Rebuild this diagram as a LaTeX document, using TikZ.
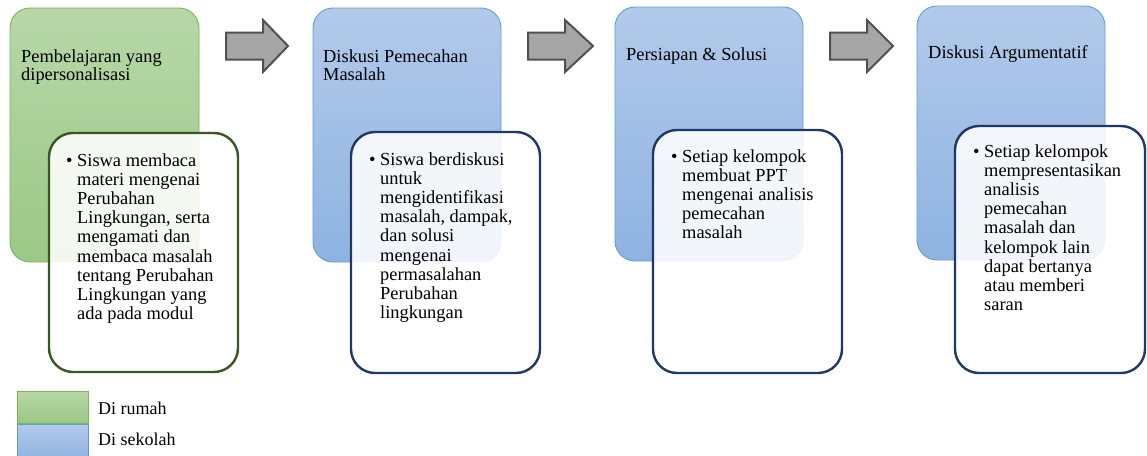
\documentclass[tikz,border=0pt]{standalone}
\usepackage{fontspec}
\setmainfont{Liberation Serif}
\usetikzlibrary{calc}
\definecolor{gtop}{RGB}{183,215,168}
\definecolor{gbot}{RGB}{155,200,134}
\definecolor{gline}{RGB}{122,182,82}
\definecolor{btop}{RGB}{178,202,234}
\definecolor{bbot}{RGB}{142,179,225}
\definecolor{bline}{RGB}{98,156,214}
\definecolor{gdark}{RGB}{56,87,35}
\definecolor{bdark}{RGB}{31,56,100}
\definecolor{arrfill}{RGB}{166,166,166}
\definecolor{arrline}{RGB}{80,80,80}
\tikzset{
  greenbox/.style={rounded corners=20pt, top color=gtop, bottom color=gbot, draw=gline, line width=0.9pt},
  bluebox/.style={rounded corners=20pt, top color=btop, bottom color=bbot, draw=bline, line width=0.9pt},
  innerbox/.style={rounded corners=24pt, fill=white, fill opacity=0.88, line width=2.4pt},
  arrowshape/.style={fill=arrfill, draw=arrline, line width=2pt, line join=miter},
  headtext/.style={anchor=base west, inner sep=0pt, align=left, font=\fontsize{18.4}{18}\selectfont},
  bullettext/.style={anchor=base west, inner sep=0pt, align=left, font=\fontsize{18.4}{19.2}\selectfont},
  legendtext/.style={anchor=base west, inner sep=0pt, font=\fontsize{18}{19}\selectfont},
}
\newcommand{\flowarrow}[2]{%
  \path[arrowshape] (#1,32.5) -- (#1+37,32.5) -- (#1+37,20) -- (#2,46) -- (#1+37,72) -- (#1+37,59.5) -- (#1,59.5) -- cycle;}
\begin{document}
\begin{tikzpicture}[x=1pt,y=-1pt]
\useasboundingbox (0,0) rectangle (1147,455);
% outer boxes
\path[greenbox] (10,8) rectangle (199,262);
\path[bluebox] (313,8) rectangle (501,262);
\path[bluebox] (615,7) rectangle (803,261);
\path[bluebox] (917,6) rectangle (1105,260);
% arrows
\flowarrow{226}{288}
\flowarrow{528}{593}
\flowarrow{830}{893}
% header texts (base anchor = last line)
\node[headtext] (h1) at (21,80) {Pembelajaran yang\\dipersonalisasi};
\node[headtext] (h2) at (323,80) {Diskusi Pemecahan\\Masalah};
\node[headtext] (h3) at (626,60) {Persiapan \& Solusi};
\node[headtext] (h4) at (928,58) {Diskusi Argumentatif};
% inner boxes
\path[innerbox, draw=gdark] (49,133) rectangle (238,372);
\path[innerbox, draw=bdark] (351,132) rectangle (540,373);
\path[innerbox, draw=bdark] (653,130) rectangle (842,373);
\path[innerbox, draw=bdark] (955,126) rectangle (1145,373);
% bullet texts (base anchor = last line)
\node[bullettext] (b1) at (66,166) {•};
\node[bullettext] (t1) at (77,319.6) {Siswa membaca\\materi mengenai\\Perubahan\\Lingkungan, serta\\mengamati dan\\membaca masalah\\tentang Perubahan\\Lingkungan yang\\ada pada modul};
\node[bullettext] (b2) at (369,165) {•};
\node[bullettext] (t2) at (380,318.6) {Siswa berdiskusi\\untuk\\mengidentifikasi\\masalah, dampak,\\dan solusi\\mengenai\\permasalahan\\Perubahan\\lingkungan};
\node[bullettext] (b3) at (671,162) {•};
\node[bullettext] (t3) at (682,238.8) {Setiap kelompok\\membuat PPT\\mengenai analisis\\pemecahan\\masalah};
\node[bullettext] (b4) at (973,157) {•};
\node[bullettext] (t4) at (984,310.6) {Setiap kelompok\\mempresentasikan\\analisis\\pemecahan\\masalah dan\\kelompok lain\\dapat bertanya\\atau memberi\\saran};
% legend
\path[greenbox, rounded corners=0pt] (17,391) rectangle (88,423);
\path[bluebox, rounded corners=0pt] (17,424) rectangle (88,460);
\node[legendtext] (l1) at (98,414) {Di rumah};
\node[legendtext] (l2) at (98,445) {Di sekolah};
\end{tikzpicture}
\end{document}
